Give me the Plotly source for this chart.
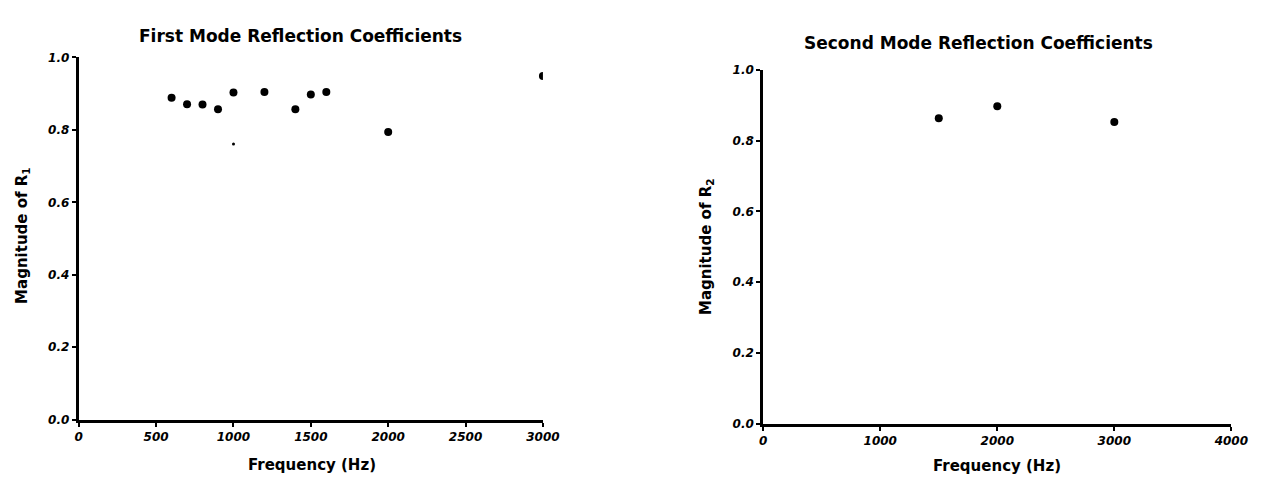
import plotly.graph_objects as go

# First mode data
freq1 = [600, 700, 800, 900, 1000, 1200, 1400, 1500, 1600, 2000, 3000]
mag1 = [0.889, 0.871, 0.870, 0.857, 0.903, 0.905, 0.857, 0.898, 0.905, 0.794, 0.949]
freq1_extra = [1000]
mag1_extra = [0.761]

# Second mode data
freq2 = [1500, 2000, 3000]
mag2 = [0.864, 0.898, 0.853]

x1_ticks = [0, 500, 1000, 1500, 2000, 2500, 3000]
x2_ticks = [0, 1000, 2000, 3000, 4000]
y_ticks = [0.0, 0.2, 0.4, 0.6, 0.8, 1.0]
y_ticktext = ["0.0", "0.2", "0.4", "0.6", "0.8", "1.0"]

W, H = 1269, 483
def px(x):
    return x / W
def py(y):
    return 1 - y / H

fig = go.Figure()
fig.add_trace(go.Scatter(x=freq1, y=mag1, mode="markers",
                         marker=dict(color="black", size=8), xaxis="x", yaxis="y",
                         showlegend=False))
fig.add_trace(go.Scatter(x=freq1_extra, y=mag1_extra, mode="markers",
                         marker=dict(color="black", size=3), xaxis="x", yaxis="y",
                         showlegend=False))
fig.add_trace(go.Scatter(x=freq2, y=mag2, mode="markers",
                         marker=dict(color="black", size=8), xaxis="x2", yaxis="y2",
                         showlegend=False))

tickfont = dict(family="DejaVu Sans", size=12, color="black", weight="bold", style="italic")
axis_common = dict(showgrid=False, zeroline=False, showline=True, linecolor="black",
                   linewidth=3, ticks="outside", ticklen=4, tickwidth=1.5,
                   tickcolor="black", tickfont=tickfont)

fig.update_layout(
    width=W, height=H,
    margin=dict(l=0, r=0, t=0, b=0),
    paper_bgcolor="white", plot_bgcolor="white",
    xaxis=dict(domain=[px(76), px(548)], range=[0, 3000], tickvals=x1_ticks,
               anchor="y", **axis_common),
    yaxis=dict(domain=[py(425), py(52)], range=[0, 1], tickvals=y_ticks,
               ticktext=y_ticktext, anchor="x", **axis_common),
    xaxis2=dict(domain=[px(772), px(1248)], range=[0, 4000], tickvals=x2_ticks,
                anchor="y2", **axis_common),
    yaxis2=dict(domain=[py(429), py(65)], range=[0, 1], tickvals=y_ticks,
                ticktext=y_ticktext, anchor="x2", **axis_common),
)

title_font = dict(family="DejaVu Sans", size=17, color="black", weight="bold")
label_font = dict(family="DejaVu Sans", size=15, color="black", weight="bold")

annotations = [
    dict(text="First Mode Reflection Coefficients", x=px(301), y=py(30), font=title_font),
    dict(text="Second Mode Reflection Coefficients", x=px(991), y=py(37), font=title_font),
    dict(text="Frequency (Hz)", x=px(313), y=py(472), font=label_font),
    dict(text="Frequency (Hz)", x=px(1010), y=py(473), font=label_font),
    dict(text="Magnitude of R<sub>1</sub>", x=px(18), y=py(235), textangle=-90, font=label_font),
    dict(text="Magnitude of R<sub>2</sub>", x=px(715), y=py(247), textangle=-90, font=label_font),
]
for a in annotations:
    a.update(xref="paper", yref="paper", showarrow=False, xanchor="center", yanchor="middle")
fig.update_layout(annotations=annotations)

fig.write_html("out.html")
